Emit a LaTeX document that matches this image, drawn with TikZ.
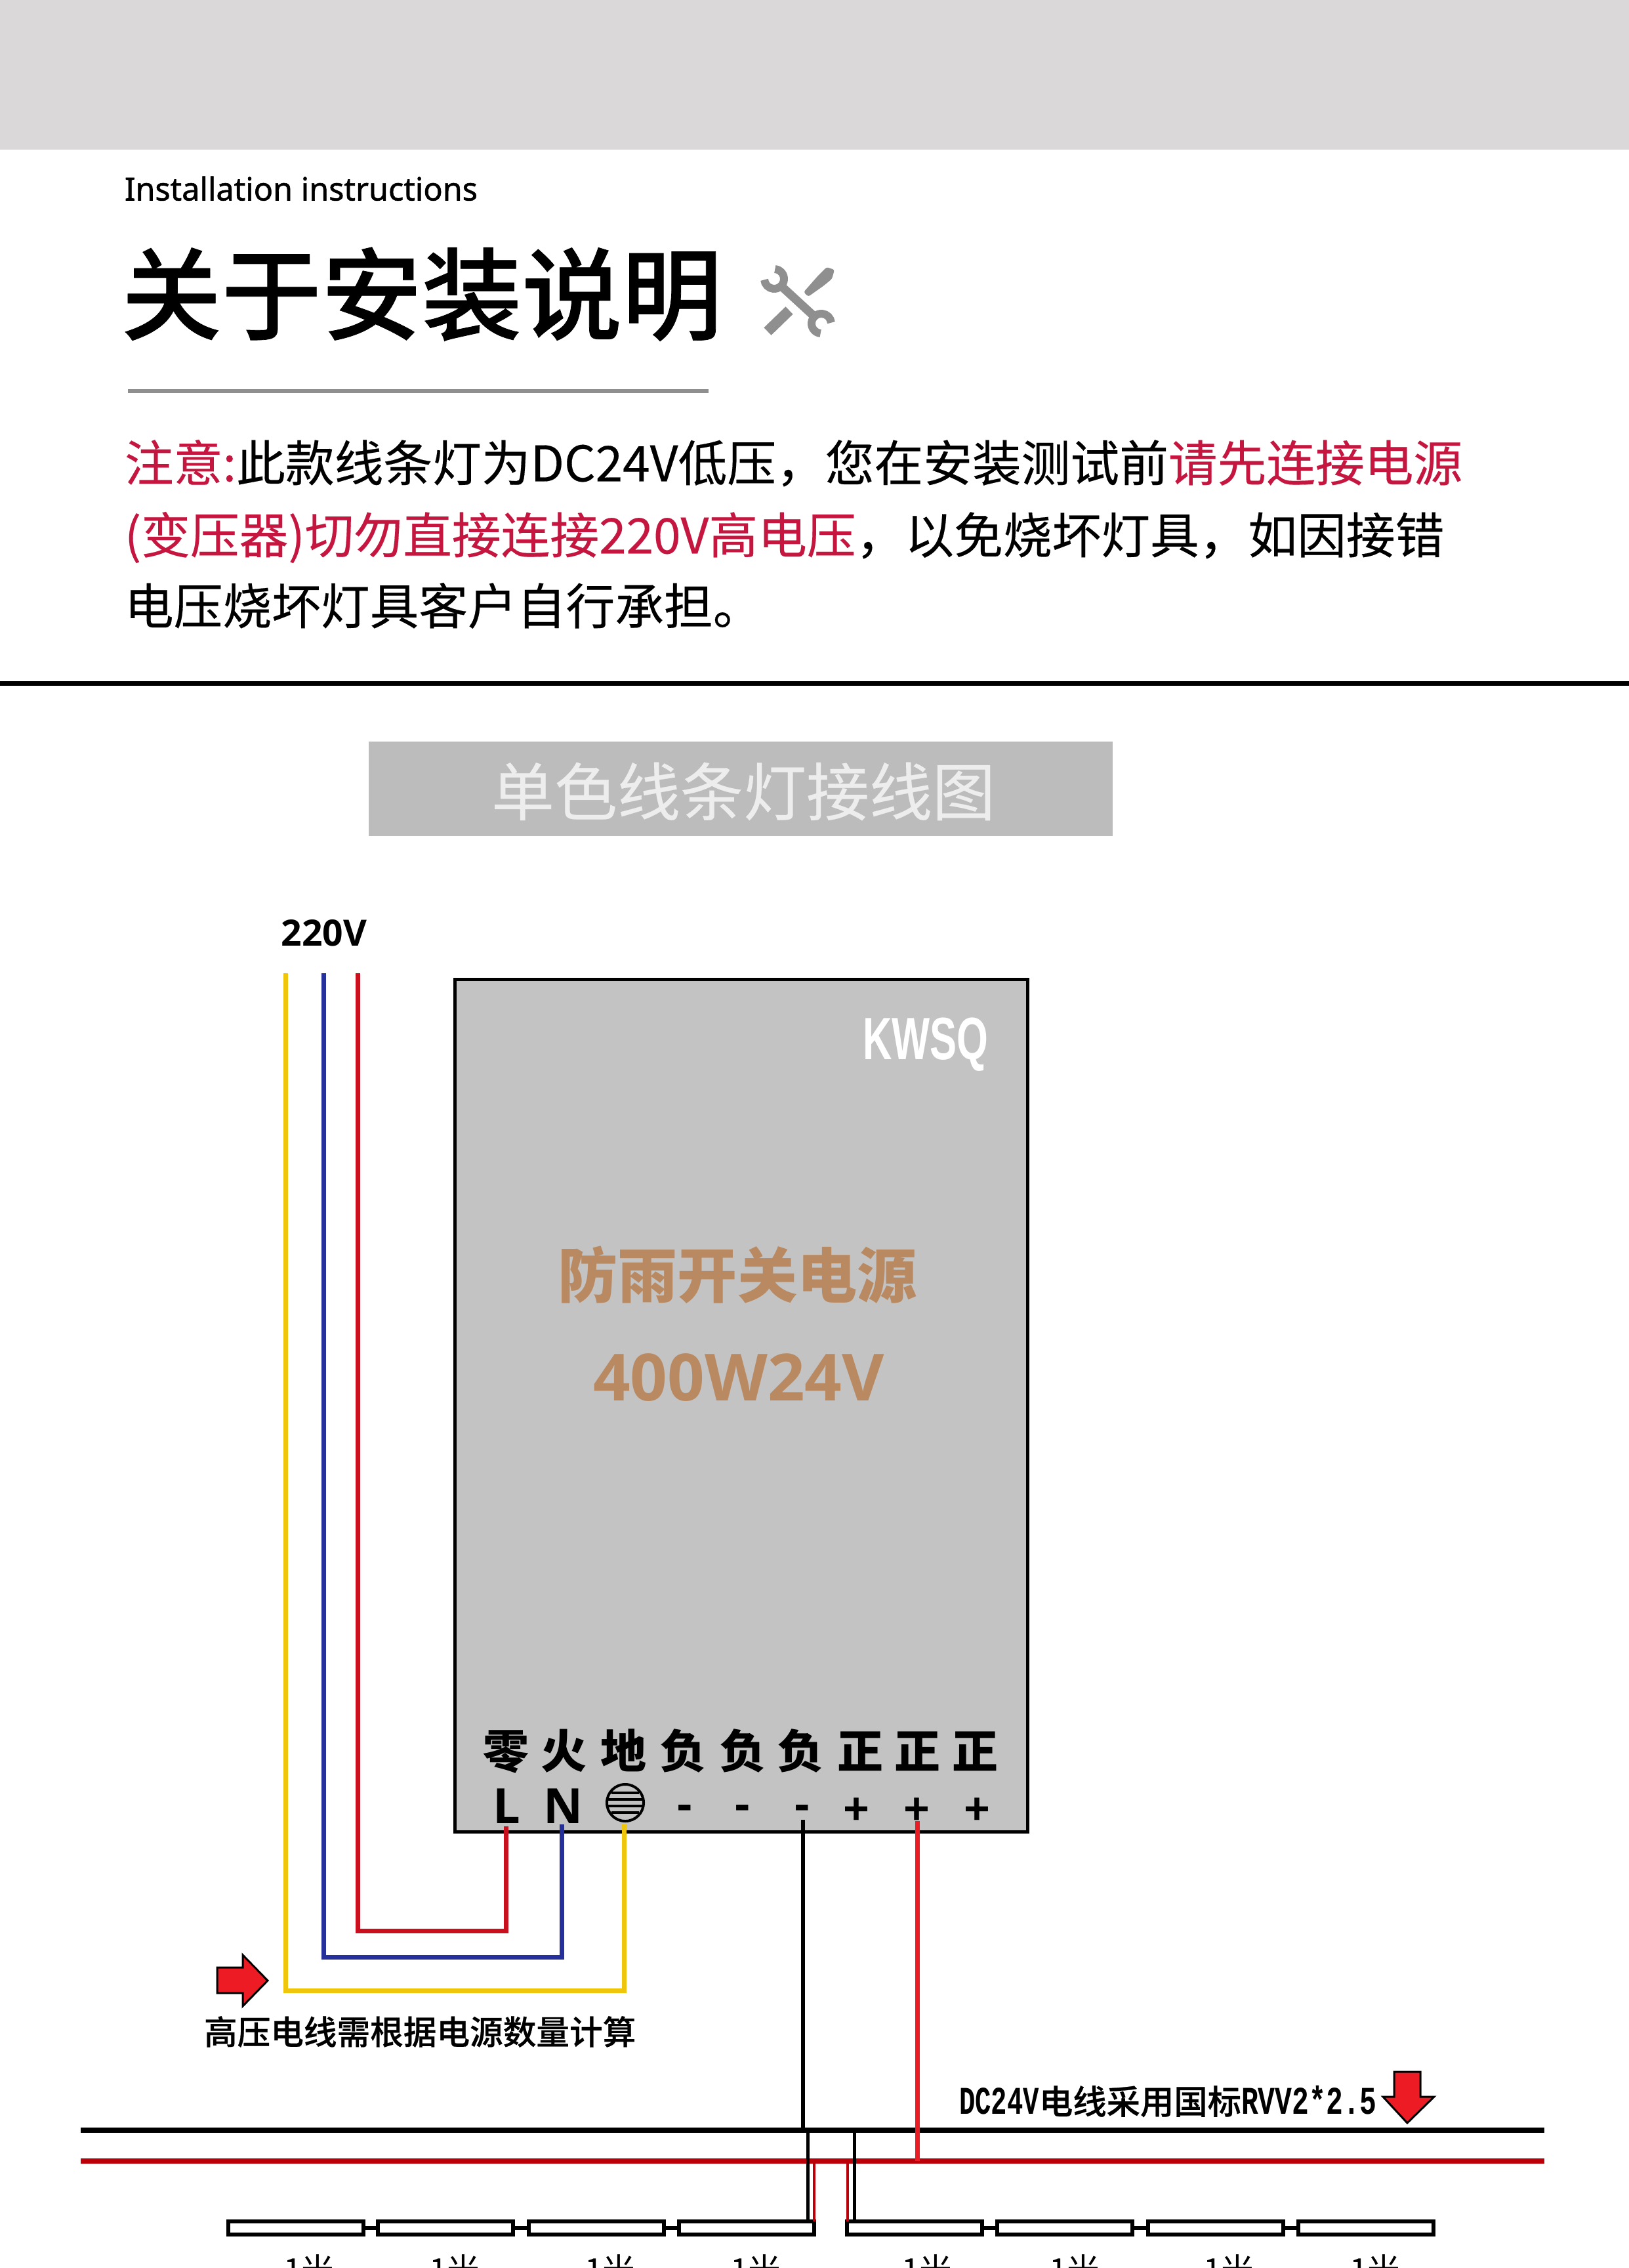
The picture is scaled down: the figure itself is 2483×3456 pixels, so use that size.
\documentclass[tikz,border=0pt]{standalone}
\usepackage{fontspec}
\setmainfont{Noto Sans CJK SC}
\newfontfamily\cjkmedium[FakeBold=0.5]{Noto Sans CJK SC Medium}
\newfontfamily\cjkreg[FakeBold=0.25]{Noto Sans CJK SC}
\newfontfamily\latinfont{Open Sans}
\newfontfamily\latinmid[FakeBold=1.2]{Noto Sans}
\newfontfamily\headfont{Liberation Sans}
\newfontfamily\narrowfont{Liberation Mono}
\usetikzlibrary{positioning}
\definecolor{bandgray}{HTML}{DAD8D9}
\definecolor{rulegray}{HTML}{8F8F8F}
\definecolor{headgray}{HTML}{BCBCBC}
\definecolor{boxgray}{HTML}{C3C3C3}
\definecolor{warnred}{HTML}{C4163F}
\definecolor{brown}{HTML}{B98A62}
\definecolor{wirered}{HTML}{C8101E}
\definecolor{wireblue}{HTML}{26309A}
\definecolor{wireyellow}{HTML}{EFC60C}
\definecolor{busred}{HTML}{BC0009}
\definecolor{arrowred}{HTML}{ED1C24}
\newcommand{\narrowtxt}[2]{\scalebox{#1}[1]{\fontsize{17}{17}\narrowfont\bfseries #2}}
\tikzset{
  txt/.style={inner sep=0pt,outer sep=0pt,font=\fontsize{#1}{#1}\selectfont,text height=.88*#1 pt,text depth=.12*#1 pt},
  wire/.style={line width=.07cm,line join=miter},
  thinwire/.style={line width=.05cm},
  busline/.style={line width=.075cm},
  strip/.style={draw=black,fill=white,line width=.06cm,minimum width=2.06cm,minimum height=.2cm,inner sep=0pt,outer sep=0pt},
  flag/.style={fill=arrowred,draw=black,line width=.03cm,line join=miter},
  tool/.style={draw=rulegray,line cap=round},
}
\begin{document}
\begin{tikzpicture}[x=.01cm,y=-.01cm]
\useasboundingbox (0,0) rectangle (2483,3456);
\clip (0,0) rectangle (2483,3456);
% top part
\fill[bandgray] (0,0) rectangle (2483,228);
\node[txt=13.8,anchor=west] (subtitle) at (190,287) {\latinmid Installation instructions};
\node[txt=43.4,anchor=west] (title) at (185,448) {\cjkmedium 关于安装说明};
\draw[rulegray,line width=.06cm] (195,596) -- (1080,596);

% tools
\draw[tool,line width=.13cm] (1192,437) -- (1241,482);
\draw[tool,line width=.12cm,line cap=butt] (1180,425) ++(275:15) arc (275:535:15);
\draw[tool,line width=.12cm,line cap=butt] (1252,493) ++(95:15) arc (95:355:15);
\draw[tool,line width=.16cm,line cap=butt] (1170,505) -- (1203,473);
\fill[rulegray,rounded corners=.03cm] (1225,445) -- (1247,420) -- (1260,407) -- (1272,411) -- (1268,425) -- (1256,435) -- (1232,452) -- cycle;

\node[txt=21.25,anchor=west] (note1) at (190,705) {\cjkreg\textcolor{warnred}{注意:}此款线条灯为DC24V低压，您在安装测试前\textcolor{warnred}{请先连接电源}};
\node[txt=21.25,anchor=west] (note2) at (190,815) {\cjkreg\textcolor{warnred}{(变压器)切勿直接连接220V高电压}，以免烧坏灯具，如因接错};
\node[txt=21.25,anchor=west] (note3) at (190,923) {\cjkreg 电压烧坏灯具客户自行承担。};
\draw[black,line width=.07cm] (0,1041) -- (2483,1041);

% diagram title
\node[fill=headgray,minimum width=11.34cm,minimum height=1.44cm,inner sep=0pt,outer sep=0pt] (head) at (1129,1202) {};
\node[txt=27.3,text=white!93!black] (headtxt) at (1133,1206) {\cjkreg 单色线条灯接线图};

\node[txt=15.7] (v220) at (494,1420) {\latinfont\bfseries 220V};

% power supply
\node[draw=black,fill=boxgray,line width=.05cm,minimum width=8.72cm,minimum height=12.98cm,inner sep=0pt,outer sep=0pt] (psu) at (1130,2142) {};
\node[inner sep=0pt,text=white] (brand) at (1411,1592) {\fontsize{25.9}{25.9}\selectfont\headfont\bfseries\scalebox{.675}[1]{KWSQ}};
\node[txt=25.9,text=brown] (psuname) at (1124,1943) {\bfseries 防雨开关电源};
\node[txt=28.2,text=brown] (psuwatt) at (1126,2097) {\latinfont\bfseries 400W24V};

% terminals
\foreach \n/\x/\t in {a/771/零,b/859/火,c/950/地,d/1041/负,e/1132/负,f/1220/负,g/1311/正,h/1398/正,i/1486/正}
  \node[txt=19.9] (top\n) at (\x,2668) {\bfseries\t};
\node[txt=21] (termL) at (772,2750) {\latinfont\bfseries L};
\node[txt=21] (termN) at (859,2750) {\latinfont\bfseries N};
\node[circle,draw=black,line width=.04cm,minimum size=.56cm,inner sep=0pt,outer sep=0pt] (termG) at (953,2747) {};
\foreach \dy/\dx in {-15/21,-5/26,5/26,15/21}
  \draw[line width=.04cm] (953-\dx,2747+\dy) -- (953+\dx,2747+\dy);
\foreach \n/\x in {m1/1044,m2/1132,m3/1223}
  \node[txt=19.9] (\n) at (\x,2747) {\latinfont\bfseries -};
\foreach \n/\x in {p1/1305,p2/1397,p3/1489}
  \node[txt=19.9] (\n) at (\x,2755) {\latinfont\bfseries +};

% wires
\coordinate (inY) at (435,1483);
\coordinate (inB) at (493,1483);
\coordinate (inR) at (545,1483);
\coordinate (cY) at (435,3033);
\coordinate (cB) at (493,2982);
\coordinate (cR) at (545,2942);
\coordinate (outY) at (951,2780);
\coordinate (outB) at (856,2780);
\coordinate (outR) at (771,2783);
\draw[wire,wireyellow] (inY) -- (cY) -| (outY);
\draw[wire,wireblue] (inB) -- (cB) -| (outB);
\draw[wire,wirered] (inR) -- (cR) -| (outR);

\coordinate (blkL) at (123,3246);
\coordinate (blkR) at (2354,3246);
\coordinate (redL) at (123,3293);
\coordinate (redR) at (2354,3293);
\draw[busline,black] (blkL) -- (blkR);
\draw[busline,busred] (redL) -- (redR);

\coordinate (outM) at (1224,2773);
\coordinate (outP) at (1398,2775);
\draw[black,line width=.065cm] (outM) -- (outM |- blkL);
\draw[arrowred,line width=.07cm] (outP) -- (outP |- redL);

% strips
\foreach \n/\x in {s1/451,s2/679,s3/909,s4/1138,s5/1394,s6/1623,s7/1853,s8/2082}
  \node[strip] (\n) at (\x,3395) {};
\foreach \a/\b in {s1/s2,s2/s3,s3/s4,s5/s6,s6/s7,s7/s8}
  \draw[line width=.06cm] (\a) -- (\b);
\foreach \n/\x in {t1/471,t2/693,t3/930,t4/1152,t5/1413,t6/1638,t7/1873,t8/2096}
  \node[txt=14.2] (\n) at (\x,3458) {1米};

\coordinate (tapA) at (1231,3246);
\coordinate (tapB) at (1241,3293);
\coordinate (tapC) at (1292,3293);
\coordinate (tapD) at (1302,3246);
\draw[thinwire,black] (tapA) -- (tapA |- s4.north);
\draw[thinwire,busred,line width=.04cm] (tapB) -- (tapB |- s4.north);
\draw[thinwire,busred,line width=.04cm] (tapC) -- (tapC |- s5.north);
\draw[thinwire,black] (tapD) -- (tapD |- s5.north);

% notes and arrows
\draw[flag] (331,2998) -- (370,2998) -- (370,2979) -- (408,3018) -- (370,3057) -- (370,3037) -- (331,3037) -- cycle;
\node[txt=14.4,anchor=west] (hvnote) at (311,3096) {\cjkmedium 高压电线需根据电源数量计算};
\node[txt=14.6,anchor=west] (dcnote) at (1462,3202) {\narrowtxt{.68}{DC24V}\cjkmedium 电线采用国标\narrowtxt{.72}{RVV2*2.5}};
\draw[flag] (2125,3157) -- (2165,3157) -- (2165,3195) -- (2186,3195) -- (2145,3235) -- (2108,3195) -- (2125,3195) -- cycle;
\end{tikzpicture}
\end{document}
